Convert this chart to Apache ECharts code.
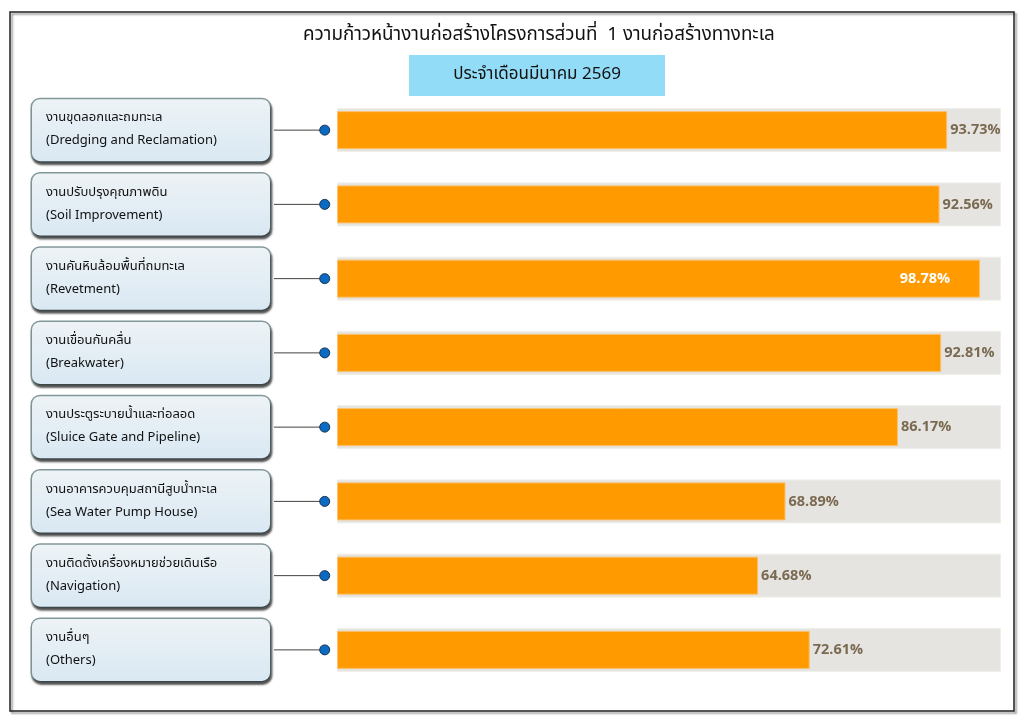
<!DOCTYPE html>
<html>
<head>
<meta charset="utf-8">
<script src="https://cdn.jsdelivr.net/npm/echarts@6/dist/echarts.min.js"></script>
<style>
  html, body { margin: 0; padding: 0; background: #fff; }
  #chart { width: 1024px; height: 725px; }
</style>
</head>
<body>
<div id="chart"></div>
<script>
// ข้อมูลหมวดงาน (ไทย / อังกฤษ)
const thaiNames = [
  'งานขุดลอกและถมทะเล',
  'งานปรับปรุงคุณภาพดิน',
  'งานคันหินล้อมพื้นที่ถมทะเล',
  'งานเขื่อนกันคลื่น',
  'งานประตูระบายน้ำและท่อลอด',
  'งานอาคารควบคุมสถานีสูบน้ำทะเล',
  'งานติดตั้งเครื่องหมายช่วยเดินเรือ',
  'งานอื่นๆ'
];
const englishNames = [
  '(Dredging and Reclamation)',
  '(Soil Improvement)',
  '(Revetment)',
  '(Breakwater)',
  '(Sluice Gate and Pipeline)',
  '(Sea Water Pump House)',
  '(Navigation)',
  '(Others)'
];
// ความก้าวหน้า (%)
const progress = [93.73, 92.56, 98.78, 92.81, 86.17, 68.89, 64.68, 72.61];
const trackValue = 102;

const titleText = 'ความก้าวหน้างานก่อสร้างโครงการส่วนที่  1 งานก่อสร้างทางทะเล';
const monthText = 'ประจำเดือนมีนาคม 2569';

const FONT = "Tahoma, 'Noto Sans Thai', 'Noto Sans', sans-serif";
const X_MIN = -10;
const X_MAX = 102;
const DOT_X = -1.9;

const categories = thaiNames.map((t, i) => t + '\n' + englishNames[i]);

const chart = echarts.init(document.getElementById('chart'));

const option = {
  backgroundColor: '#fff',
  animation: false,
  graphic: [{
    type: 'rect',
    shape: { x: 10, y: 12, width: 1004, height: 699 },
    style: {
      fill: 'none', stroke: '#222', lineWidth: 1.5,
      shadowColor: 'rgba(0,0,0,0.45)', shadowOffsetX: 2, shadowOffsetY: 2, shadowBlur: 2
    },
    z: 100
  }],
  title: [
    {
      text: titleText,
      left: 298,
      top: 22,
      textStyle: { fontFamily: FONT, fontSize: 18.8, fontWeight: 'normal', color: '#111' }
    },
    {
      text: '{b|' + monthText + '}',
      left: 409,
      top: 55,
      padding: 0,
      textStyle: {
        rich: {
          b: {
            width: 256, height: 41, lineHeight: 41, align: 'center',
            backgroundColor: '#93dcf7',
            fontFamily: FONT, fontSize: 17, fontWeight: 'normal', color: '#111'
          }
        }
      }
    }
  ],
  grid: { left: 272, right: 23, top: 93, bottom: 38 },
  xAxis: {
    type: 'value',
    min: X_MIN,
    max: X_MAX,
    show: false
  },
  yAxis: [
    {
      type: 'category',
      inverse: true,
      data: categories,
      axisLine: { show: false },
      axisTick: { show: false },
      axisLabel: {
        align: 'left',
        margin: 240,
        width: 224,
        height: 46,
        lineHeight: 23,
        padding: [8, 0, 8, 14],
        fontFamily: FONT,
        fontSize: 13,
        color: '#111',
        borderColor: '#82979a',
        borderWidth: 1.5,
        borderRadius: 8,
        backgroundColor: {
          type: 'linear', x: 0, y: 0, x2: 0, y2: 1,
          colorStops: [
            { offset: 0, color: '#eef3f6' },
            { offset: 1, color: '#d9e8f3' }
          ]
        },
        shadowColor: 'rgba(0,0,0,0.55)',
        shadowBlur: 2,
        shadowOffsetX: 1,
        shadowOffsetY: 2.5
      }
    },
    {
      type: 'category',
      inverse: true,
      data: categories,
      show: false
    }
  ],
  series: [
    {
      // พื้นหลังแถบ
      type: 'bar',
      yAxisIndex: 1,
      data: progress.map(() => trackValue),
      barWidth: 44,
      itemStyle: { color: '#e6e4e0', borderColor: '#efeeeb', borderWidth: 1 },
      silent: true,
      z: 1
    },
    {
      type: 'bar',
      yAxisIndex: 0,
      data: progress.map(v => v > 95
        ? { value: v, label: { position: 'insideRight', color: '#fff', distance: 30 } }
        : v),
      barWidth: 38,
      itemStyle: { color: '#ff9a00', borderColor: '#f9c06a', borderWidth: 1 },
      label: {
        show: true,
        position: 'right',
        distance: 3,
        formatter: p => p.value.toFixed(2) + '%',
        fontFamily: "'Open Sans', 'Noto Sans', sans-serif",
        fontSize: 14.5,
        fontWeight: 'bold',
        color: '#7a6a52'
      },
      z: 2
    },
    {
      // เส้นเชื่อมและจุด
      type: 'custom',
      data: progress.map((v, i) => i),
      renderItem: (params, api) => {
        const idx = api.value(0);
        const start = api.coord([X_MIN, idx]);
        const end = api.coord([DOT_X, idx]);
        return {
          type: 'group',
          children: [
            {
              type: 'line',
              shape: { x1: start[0] + 2, y1: start[1], x2: end[0], y2: end[1] },
              style: { stroke: '#444', lineWidth: 1 }
            },
            {
              type: 'circle',
              shape: { cx: end[0], cy: end[1], r: 5 },
              style: { fill: '#0a6ac4', stroke: '#1d3550', lineWidth: 1 }
            }
          ]
        };
      },
      encode: { y: 0 },
      z: 3
    }
  ]
};

chart.setOption(option);
</script>
</body>
</html>
